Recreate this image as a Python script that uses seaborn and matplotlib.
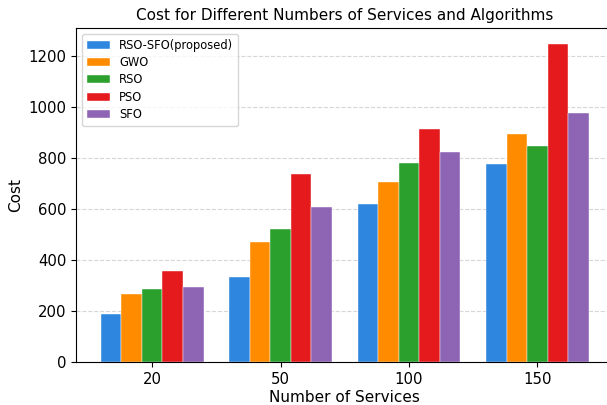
import matplotlib
matplotlib.use("Agg")
import matplotlib.pyplot as plt
import seaborn as sns
import pandas as pd

services = ["20", "50", "100", "150"]
algorithms = ["RSO-SFO(proposed)", "GWO", "RSO", "PSO", "SFO"]
rso_sfo = [188, 332, 618, 776]
gwo = [265, 470, 706, 893]
rso = [285, 522, 779, 847]
pso = [356, 737, 912, 1245]
sfo = [294, 608, 824, 976]
colors = ["#2E86DE", "#FF8C00", "#2CA02C", "#E41A1C", "#8E64B4"]

rows = []
for alg, vals in zip(algorithms, [rso_sfo, gwo, rso, pso, sfo]):
    for s, v in zip(services, vals):
        rows.append({"Number of Services": s, "Algorithm": alg, "Cost": v})
df = pd.DataFrame(rows)

fig, ax = plt.subplots(figsize=(6.07, 4.05), dpi=100)
sns.barplot(data=df, x="Number of Services", y="Cost", hue="Algorithm",
            order=services, hue_order=algorithms, palette=colors,
            saturation=1, width=0.8, ax=ax, edgecolor="white", linewidth=0.3)
ax.set_xlim(-0.59, 3.59)
ax.set_ylim(0, 1307)
ax.yaxis.grid(True, linestyle="--", color="#cccccc", alpha=0.8)
ax.set_axisbelow(True)
ax.spines["right"].set_visible(False)
ax.set_title("Cost for Different Numbers of Services and Algorithms", fontsize=11)
ax.set_xlabel("Number of Services", fontsize=11, labelpad=2)
ax.set_ylabel("Cost", fontsize=11)
ax.tick_params(labelsize=10.7)
ax.legend(loc="upper left", fontsize=8.3, handlelength=2.0, labelspacing=0.38)
fig.subplots_adjust(left=0.126, right=1.01, bottom=0.106, top=0.930)
plt.savefig("out.png", dpi=100)
